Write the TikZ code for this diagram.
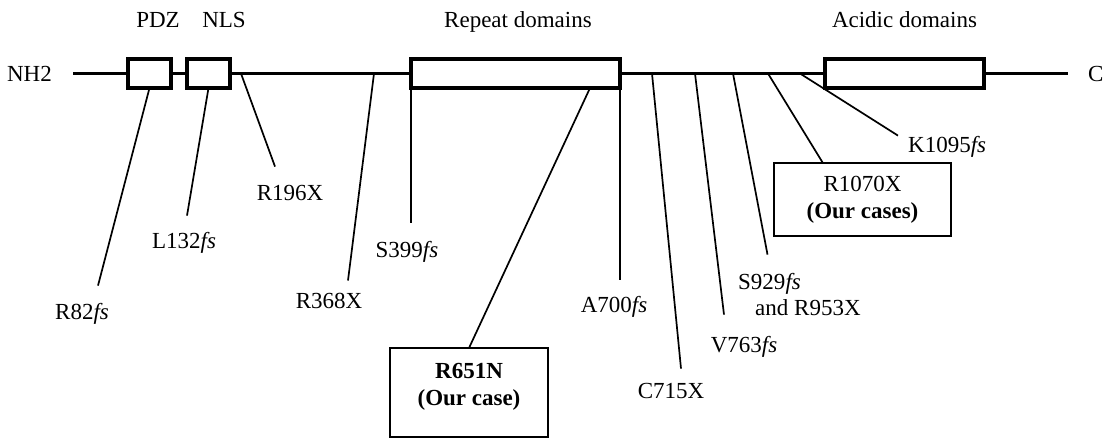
\documentclass[tikz,border=0pt]{standalone}
\usepackage{fontspec}
\setmainfont{Liberation Serif}
\usetikzlibrary{positioning}
\tikzset{
  backbone/.style={line width=3.5pt},
  domainbox/.style={
    rectangle, draw, line width=4pt, fill=white,
    minimum height=29pt, inner sep=0pt, outer sep=0pt
  },
  domlabel/.style={inner sep=0pt, text depth=0pt},
  termlabel/.style={inner sep=0pt},
  mutlabel/.style={inner sep=0pt, anchor=base},
  casebox/.style={
    rectangle, draw, line width=1.8pt, align=center,
    inner sep=0pt, outer sep=0pt
  },
  mutline/.style={line width=1.7pt}
}

\begin{document}
\begin{tikzpicture}[x=1pt, y=-1pt, font=\fontsize{23}{27}\selectfont]
  \useasboundingbox (0,0) rectangle (1105,440);

  % protein backbone and domains
  \coordinate (nterm) at (73,73.5);
  \coordinate (cterm) at (1068,73.5);
  \draw[backbone] (nterm) -- (cterm);
  \node[termlabel, left=21pt of nterm] (nh2) {NH2};
  \node[termlabel, right=20pt of cterm] (cooh) {C};

  \node[domainbox, minimum width=43pt] (pdz) at (149.5,73.5) {};
  \node[domainbox, minimum width=43pt] (nls) at (208.5,73.5) {};
  \node[domainbox, minimum width=209pt] (repeat) at (515.5,73.5) {};
  \node[domainbox, minimum width=159pt] (acidic) at (904.5,73.5) {};

  \node[domlabel, above=31pt of pdz, xshift=8.5pt] (pdzlab) {PDZ};
  \node[domlabel, above=31pt of nls, xshift=15.5pt] (nlslab) {NLS};
  \node[domlabel, above=31pt of repeat, xshift=2.5pt] (replab) {Repeat domains};
  \node[domlabel, above=31pt of acidic] (acidlab) {Acidic domains};

  % mutation sites on the backbone
  \coordinate (p196) at (241,73.5);
  \coordinate (p368) at (374,73.5);
  \coordinate (p651) at (590,88);
  \coordinate (p715) at (652,73.5);
  \coordinate (p763) at (695,73.5);
  \coordinate (p929) at (733,73.5);
  \coordinate (p1070) at (768,73.5);
  \coordinate (p1095) at (800,73.5);

  % mutation labels
  \node[mutlabel] (r82) at (82,319) {R82\textit{fs}};
  \node[mutlabel] (l132) at (184,248) {L132\textit{fs}};
  \node[mutlabel] (r196) at (290,200) {R196X};
  \node[mutlabel] (r368) at (329,308) {R368X};
  \node[mutlabel] (s399) at (407,257) {S399\textit{fs}};
  \node[mutlabel] (a700) at (614,312) {A700\textit{fs}};
  \node[mutlabel] (c715) at (671,398) {C715X};
  \node[mutlabel] (v763) at (744,352) {V763\textit{fs}};
  \node[mutlabel, anchor=base west] (s929) at (738,289) {S929\textit{fs}};
  \node[mutlabel, anchor=base west] (r953) at (755,315) {and R953X};
  \node[mutlabel, anchor=base west] (k1095) at (908,152) {K1095\textit{fs}};
  \node[casebox, minimum width=158pt, minimum height=89pt] (r651) at (469,392.5)
    {\textbf{R651N}\\\textbf{(Our case)}\rule[-17pt]{0pt}{17pt}};
  \node[casebox, minimum width=177.5pt, minimum height=73.5pt] (r1070) at (862.5,199.5)
    {R1070X\\\textbf{(Our cases)}};

  \draw[mutline] (pdz.south) -- ([xshift=16pt,yshift=17pt]r82.north);
  \draw[mutline] (nls.south) -- ([xshift=3pt,yshift=16pt]l132.north);
  \draw[mutline] (p196) -- ([xshift=-15pt,yshift=18pt]r196.north);
  \draw[mutline] (p368) -- ([xshift=19pt,yshift=12pt]r368.north);
  \draw[mutline] (repeat.south west) -- ([xshift=4pt,yshift=18pt]s399.north);
  \draw[mutline] (p651) -- (r651.north);
  \draw[mutline] (repeat.south east) -- ([xshift=6pt,yshift=16pt]a700.north);
  \draw[mutline] (p715) -- ([xshift=10pt,yshift=14pt]c715.north);
  \draw[mutline] (p763) -- ([xshift=-20pt,yshift=21pt]v763.north);
  \draw[mutline] (p929) -- ([xshift=-2pt,yshift=18pt]s929.north);
  \draw[mutline] (p1070) -- ([xshift=49pt]r1070.north west);
  \draw[mutline] (p1095) -- ([xshift=-10pt]k1095.north west);
\end{tikzpicture}
\end{document}
